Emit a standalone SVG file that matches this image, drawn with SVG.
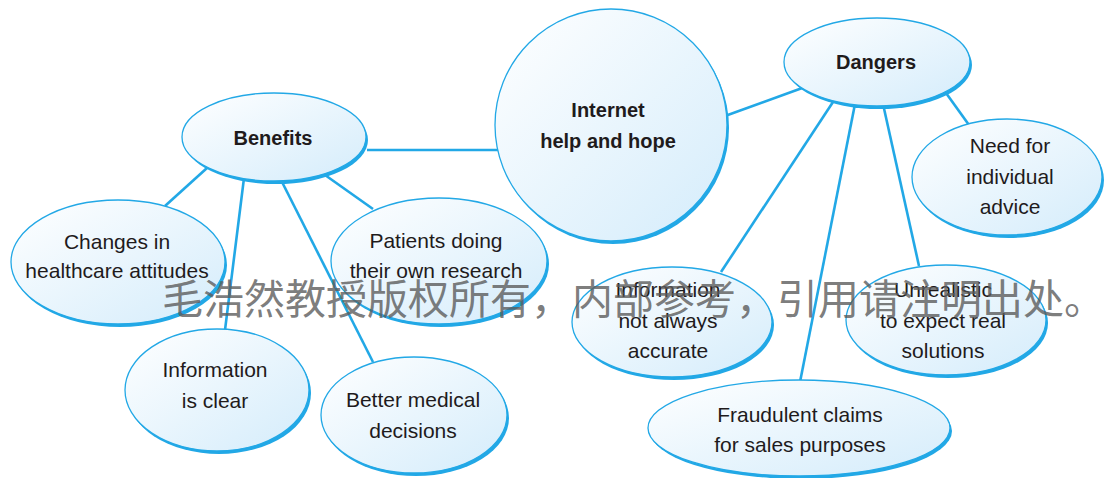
<svg xmlns="http://www.w3.org/2000/svg" width="1104" height="478" viewBox="0 0 1104 478">
<defs>
<linearGradient id="g" x1="0" y1="0" x2="1" y2="1">
<stop offset="0" stop-color="#ffffff"/>
<stop offset="1" stop-color="#d4ecfb"/>
</linearGradient>
<style>
.sh{fill:#22a8e6;stroke:none}
.nd{fill:url(#g);stroke:#22a8e6;stroke-width:1.3}
.t{font-family:"Liberation Sans",Arial,sans-serif;font-size:21px;fill:#1f1b1c;text-anchor:middle}
.b{font-weight:bold;font-size:20px}
.c line{stroke:#22a8e6;stroke-width:2.6}
.wm{font-family:"Noto Sans CJK SC","Noto Sans",sans-serif;font-size:41px;fill:#5a5a5a;fill-opacity:0.8}
</style>
</defs>
<rect width="1104" height="478" fill="#ffffff"/>
<g id="connectors" class="c">
<line x1="367" y1="150" x2="500" y2="150"/>
<line x1="207" y1="168" x2="165" y2="206"/>
<line x1="244" y1="178" x2="225" y2="330"/>
<line x1="280" y1="178" x2="373" y2="362"/>
<line x1="325" y1="175" x2="373" y2="209"/>
<line x1="725" y1="116" x2="805" y2="87"/>
<line x1="833" y1="102" x2="721" y2="272"/>
<line x1="855" y1="104" x2="800" y2="382"/>
<line x1="883" y1="104" x2="919" y2="266"/>
<line x1="946" y1="93" x2="969" y2="125"/>
</g>
<g id="internet">
<circle class="sh" cx="613" cy="128" r="116"/>
<circle class="nd" cx="611" cy="125" r="116"/>
<text class="t b" x="608" y="117">Internet</text>
<text class="t b" x="608" y="148">help and hope</text>
</g>
<g id="benefits">
<ellipse class="sh" cx="276" cy="140" rx="92" ry="44"/>
<ellipse class="nd" cx="274" cy="137" rx="92" ry="44"/>
<text class="t b" x="273" y="145">Benefits</text>
</g>
<g id="dangers">
<ellipse class="sh" cx="879" cy="65" rx="93" ry="44"/>
<ellipse class="nd" cx="877" cy="62" rx="93" ry="44"/>
<text class="t b" x="876" y="69">Dangers</text>
</g>
<g id="need">
<ellipse class="sh" cx="1009" cy="180" rx="95" ry="58"/>
<ellipse class="nd" cx="1007" cy="177" rx="95" ry="58"/>
<text class="t" x="1010" y="153">Need for</text>
<text class="t" x="1010" y="184">individual</text>
<text class="t" x="1010" y="214">advice</text>
</g>
<g id="changes">
<ellipse class="sh" cx="120" cy="265" rx="107" ry="62"/>
<ellipse class="nd" cx="118" cy="262" rx="107" ry="62"/>
<text class="t" x="117" y="249">Changes in</text>
<text class="t" x="117" y="278">healthcare attitudes</text>
</g>
<g id="patients">
<ellipse class="sh" cx="441" cy="264" rx="108" ry="63"/>
<ellipse class="nd" cx="439" cy="261" rx="108" ry="63"/>
<text class="t" x="436" y="248">Patients doing</text>
<text class="t" x="436" y="278">their own research</text>
</g>
<g id="info-clear">
<ellipse class="sh" cx="219" cy="393" rx="92" ry="61"/>
<ellipse class="nd" cx="217" cy="390" rx="92" ry="61"/>
<text class="t" x="215" y="377">Information</text>
<text class="t" x="215" y="408">is clear</text>
</g>
<g id="better">
<ellipse class="sh" cx="416" cy="418" rx="93" ry="58"/>
<ellipse class="nd" cx="414" cy="415" rx="93" ry="58"/>
<text class="t" x="413" y="407">Better medical</text>
<text class="t" x="413" y="438">decisions</text>
</g>
<g id="info-not">
<ellipse class="sh" cx="674" cy="325" rx="100" ry="55"/>
<ellipse class="nd" cx="672" cy="322" rx="100" ry="55"/>
<text class="t" x="668" y="297">Information</text>
<text class="t" x="668" y="328">not always</text>
<text class="t" x="668" y="358">accurate</text>
</g>
<g id="unrealistic">
<ellipse class="sh" cx="948" cy="323" rx="100" ry="55"/>
<ellipse class="nd" cx="946" cy="320" rx="100" ry="55"/>
<text class="t" x="943" y="297">Unrealistic</text>
<text class="t" x="943" y="328">to expect real</text>
<text class="t" x="943" y="358">solutions</text>
</g>
<g id="fraudulent">
<ellipse class="sh" cx="801" cy="431" rx="151" ry="48"/>
<ellipse class="nd" cx="799" cy="428" rx="151" ry="48"/>
<text class="t" x="800" y="422">Fraudulent claims</text>
<text class="t" x="800" y="452">for sales purposes</text>
</g>
<text class="wm" x="162" y="314">毛浩然教授版权所有，内部参考，引用请注明出处。</text>
</svg>
